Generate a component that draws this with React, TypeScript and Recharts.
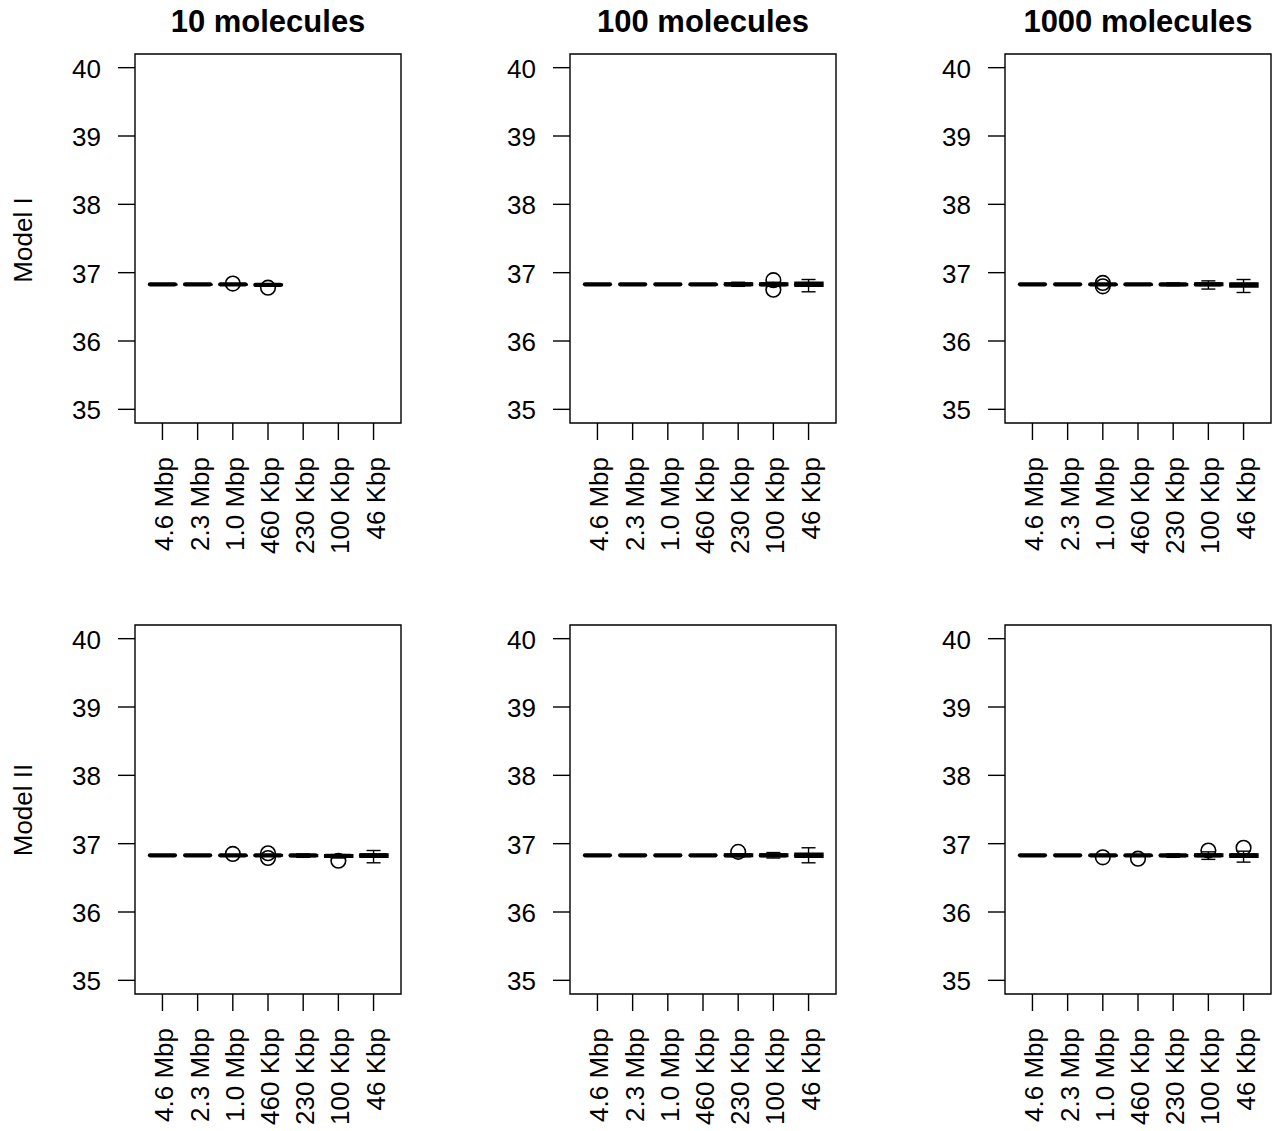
import React from 'react';
import { ComposedChart, Bar, Scatter, ErrorBar, XAxis, YAxis, ReferenceArea } from 'recharts';

const sizeLabels = ['4.6 Mbp', '2.3 Mbp', '1.0 Mbp', '460 Kbp', '230 Kbp', '100 Kbp', '46 Kbp'];
const columnTitles = ['10 molecules', '100 molecules', '1000 molecules'];
const rowTitles = ['Model I', 'Model II'];
const yTicks = [35, 36, 37, 38, 39, 40];
const xTicks = [1, 2, 3, 4, 5, 6, 7];

// Model I, 10 molecules
const m1c10Median = [36.83, 36.83, 36.83, 36.82, null, null, null];
const m1c10Q1 = [36.82, 36.82, 36.82, 36.81, null, null, null];
const m1c10Q3 = [36.83, 36.83, 36.83, 36.83, null, null, null];
const m1c10Low = [36.82, 36.82, 36.82, 36.81, null, null, null];
const m1c10High = [36.83, 36.83, 36.83, 36.83, null, null, null];
const m1c10Out = [[3, 36.84], [4, 36.78]];

// Model I, 100 molecules
const m1c100Median = [36.83, 36.83, 36.83, 36.83, 36.83, 36.83, 36.83];
const m1c100Q1 = [36.83, 36.83, 36.83, 36.82, 36.81, 36.81, 36.8];
const m1c100Q3 = [36.83, 36.83, 36.83, 36.83, 36.85, 36.85, 36.86];
const m1c100Low = [36.83, 36.83, 36.83, 36.82, 36.8, 36.8, 36.72];
const m1c100High = [36.83, 36.83, 36.83, 36.83, 36.86, 36.86, 36.9];
const m1c100Out = [[6, 36.89], [6, 36.75]];

// Model I, 1000 molecules
const m1c1000Median = [36.83, 36.83, 36.83, 36.83, 36.83, 36.83, 36.82];
const m1c1000Q1 = [36.83, 36.83, 36.82, 36.82, 36.81, 36.81, 36.79];
const m1c1000Q3 = [36.83, 36.83, 36.83, 36.83, 36.84, 36.85, 36.85];
const m1c1000Low = [36.83, 36.83, 36.82, 36.82, 36.81, 36.76, 36.71];
const m1c1000High = [36.83, 36.83, 36.83, 36.83, 36.85, 36.88, 36.9];
const m1c1000Out = [[3, 36.85], [3, 36.8]];

// Model II, 10 molecules
const m2c10Median = [36.83, 36.83, 36.83, 36.83, 36.83, 36.82, 36.83];
const m2c10Q1 = [36.83, 36.83, 36.82, 36.82, 36.81, 36.8, 36.8];
const m2c10Q3 = [36.83, 36.83, 36.83, 36.84, 36.84, 36.84, 36.85];
const m2c10Low = [36.83, 36.83, 36.82, 36.82, 36.8, 36.79, 36.72];
const m2c10High = [36.83, 36.83, 36.83, 36.84, 36.85, 36.84, 36.9];
const m2c10Out = [[3, 36.85], [4, 36.86], [4, 36.79], [6, 36.75]];

// Model II, 100 molecules
const m2c100Median = [36.83, 36.83, 36.83, 36.83, 36.83, 36.83, 36.83];
const m2c100Q1 = [36.83, 36.83, 36.83, 36.83, 36.81, 36.81, 36.8];
const m2c100Q3 = [36.83, 36.83, 36.83, 36.83, 36.85, 36.85, 36.86];
const m2c100Low = [36.83, 36.83, 36.83, 36.83, 36.81, 36.79, 36.72];
const m2c100High = [36.83, 36.83, 36.83, 36.83, 36.85, 36.87, 36.94];
const m2c100Out = [[5, 36.88]];

// Model II, 1000 molecules
const m2c1000Median = [36.83, 36.83, 36.83, 36.83, 36.83, 36.83, 36.83];
const m2c1000Q1 = [36.83, 36.83, 36.82, 36.82, 36.81, 36.81, 36.8];
const m2c1000Q3 = [36.83, 36.83, 36.83, 36.83, 36.84, 36.85, 36.85];
const m2c1000Low = [36.83, 36.83, 36.82, 36.82, 36.8, 36.77, 36.73];
const m2c1000High = [36.83, 36.83, 36.83, 36.83, 36.85, 36.88, 36.89];
const m2c1000Out = [[3, 36.8], [4, 36.78], [6, 36.9], [7, 36.94]];

const panels = [
  [
    { med: m1c10Median, q1: m1c10Q1, q3: m1c10Q3, lo: m1c10Low, hi: m1c10High, out: m1c10Out },
    { med: m1c100Median, q1: m1c100Q1, q3: m1c100Q3, lo: m1c100Low, hi: m1c100High, out: m1c100Out },
    { med: m1c1000Median, q1: m1c1000Q1, q3: m1c1000Q3, lo: m1c1000Low, hi: m1c1000High, out: m1c1000Out },
  ],
  [
    { med: m2c10Median, q1: m2c10Q1, q3: m2c10Q3, lo: m2c10Low, hi: m2c10High, out: m2c10Out },
    { med: m2c100Median, q1: m2c100Q1, q3: m2c100Q3, lo: m2c100Low, hi: m2c100High, out: m2c100Out },
    { med: m2c1000Median, q1: m2c1000Q1, q3: m2c1000Q3, lo: m2c1000Low, hi: m2c1000High, out: m2c1000Out },
  ],
];

const FONT = '"Liberation Sans", Arial, Helvetica, sans-serif';
const COL_STEP = 435;
const ROW_STEP = 571;

const XTick = (props: any) => {
  const { x, y, payload } = props;
  const label = sizeLabels[payload.value - 1];
  return (
    <text
      x={x}
      y={y}
      dy={11}
      transform={`rotate(-90, ${x}, ${y})`}
      textAnchor="end"
      fontFamily={FONT}
      fontSize={26}
      fill="#000"
    >
      {label}
    </text>
  );
};

const YTick = (props: any) => {
  const { x, y, payload } = props;
  return (
    <text x={x} y={y} dy={10} textAnchor="end" fontFamily={FONT} fontSize={26} fill="#000">
      {payload.value}
    </text>
  );
};

const MedianShape = (p: any) => {
  if (p.cx == null || p.cy == null || isNaN(p.cy)) return <g />;
  return (
    <line
      x1={p.cx - 12.5}
      x2={p.cx + 12.5}
      y1={p.cy}
      y2={p.cy}
      stroke="#000"
      strokeWidth={4.2}
      strokeLinecap="round"
    />
  );
};

const OutlierShape = (p: any) => {
  if (p.cx == null || p.cy == null || isNaN(p.cy)) return <g />;
  return <circle cx={p.cx} cy={p.cy} r={7.3} fill="none" stroke="#000" strokeWidth={1.6} />;
};

const Panel = ({ row, col }: { row: number; col: number }) => {
  const s = panels[row][col];
  const data = sizeLabels
    .map((label, i) => ({
      x: i + 1,
      label,
      med: s.med[i],
      box: s.med[i] == null ? null : [s.q1[i], s.q3[i]],
      err: s.med[i] == null ? null : [(s.med[i] as number) - (s.lo[i] as number), (s.hi[i] as number) - (s.med[i] as number)],
    }))
    .filter((d) => d.med != null);
  const outData = s.out.map(([i, v]) => ({ x: i, v }));
  return (
    <div style={{ position: 'absolute', left: col * COL_STEP, top: row * ROW_STEP }}>
      <ComposedChart
        width={405}
        height={560}
        data={data}
        margin={{ top: 54, right: 4, bottom: 17, left: 75 }}
      >
        <XAxis
          type="number"
          dataKey="x"
          domain={[0.22, 7.78]}
          ticks={xTicks}
          allowDataOverflow
          interval={0}
          height={120}
          axisLine={false}
          tickLine={{ stroke: '#000', strokeWidth: 1.4 }}
          tickSize={17}
          tickMargin={17}
          tick={XTick}
        />
        <YAxis
          type="number"
          domain={[34.8, 40.2]}
          ticks={yTicks}
          allowDataOverflow
          width={60}
          axisLine={false}
          tickLine={{ stroke: '#000', strokeWidth: 1.4 }}
          tickSize={17}
          tickMargin={17}
          tick={YTick}
        />
        <ReferenceArea
          x1={0.22}
          x2={7.78}
          y1={34.8}
          y2={40.2}
          fill="none"
          fillOpacity={0}
          stroke="#000"
          strokeWidth={1.4}
          ifOverflow="visible"
        />
        <Bar dataKey="box" barSize={28} fill="#fff" stroke="#000" strokeWidth={1.4} isAnimationActive={false} />
        <Scatter dataKey="med" shape={MedianShape} isAnimationActive={false}>
          <ErrorBar dataKey="err" direction="y" width={7} stroke="#000" strokeWidth={1.4} isAnimationActive={false} />
        </Scatter>
        <Scatter data={outData} dataKey="v" shape={OutlierShape} isAnimationActive={false} />
      </ComposedChart>
    </div>
  );
};

export default function App() {
  return (
    <div style={{ position: 'absolute', left: 0, top: 0, width: 1276, height: 1131, background: '#fff', overflow: 'hidden' }}>
      {[0, 1].map((r) => [0, 1, 2].map((c) => <Panel key={`${r}-${c}`} row={r} col={c} />))}
      <svg width={1276} height={1131} style={{ position: 'absolute', left: 0, top: 0, pointerEvents: 'none' }}>
        {columnTitles.map((t, c) => (
          <text
            key={t}
            x={c * COL_STEP + 268}
            y={32}
            textAnchor="middle"
            fontFamily={FONT}
            fontSize={31}
            fontWeight="bold"
            fill="#000"
          >
            {t}
          </text>
        ))}
        {rowTitles.map((t, r) => (
          <text
            key={t}
            x={22}
            y={240 + r * 570}
            dy={9.5}
            transform={`rotate(-90, 22, ${240 + r * 570})`}
            textAnchor="middle"
            fontFamily={FONT}
            fontSize={26}
            fill="#000"
          >
            {t}
          </text>
        ))}
      </svg>
    </div>
  );
}
